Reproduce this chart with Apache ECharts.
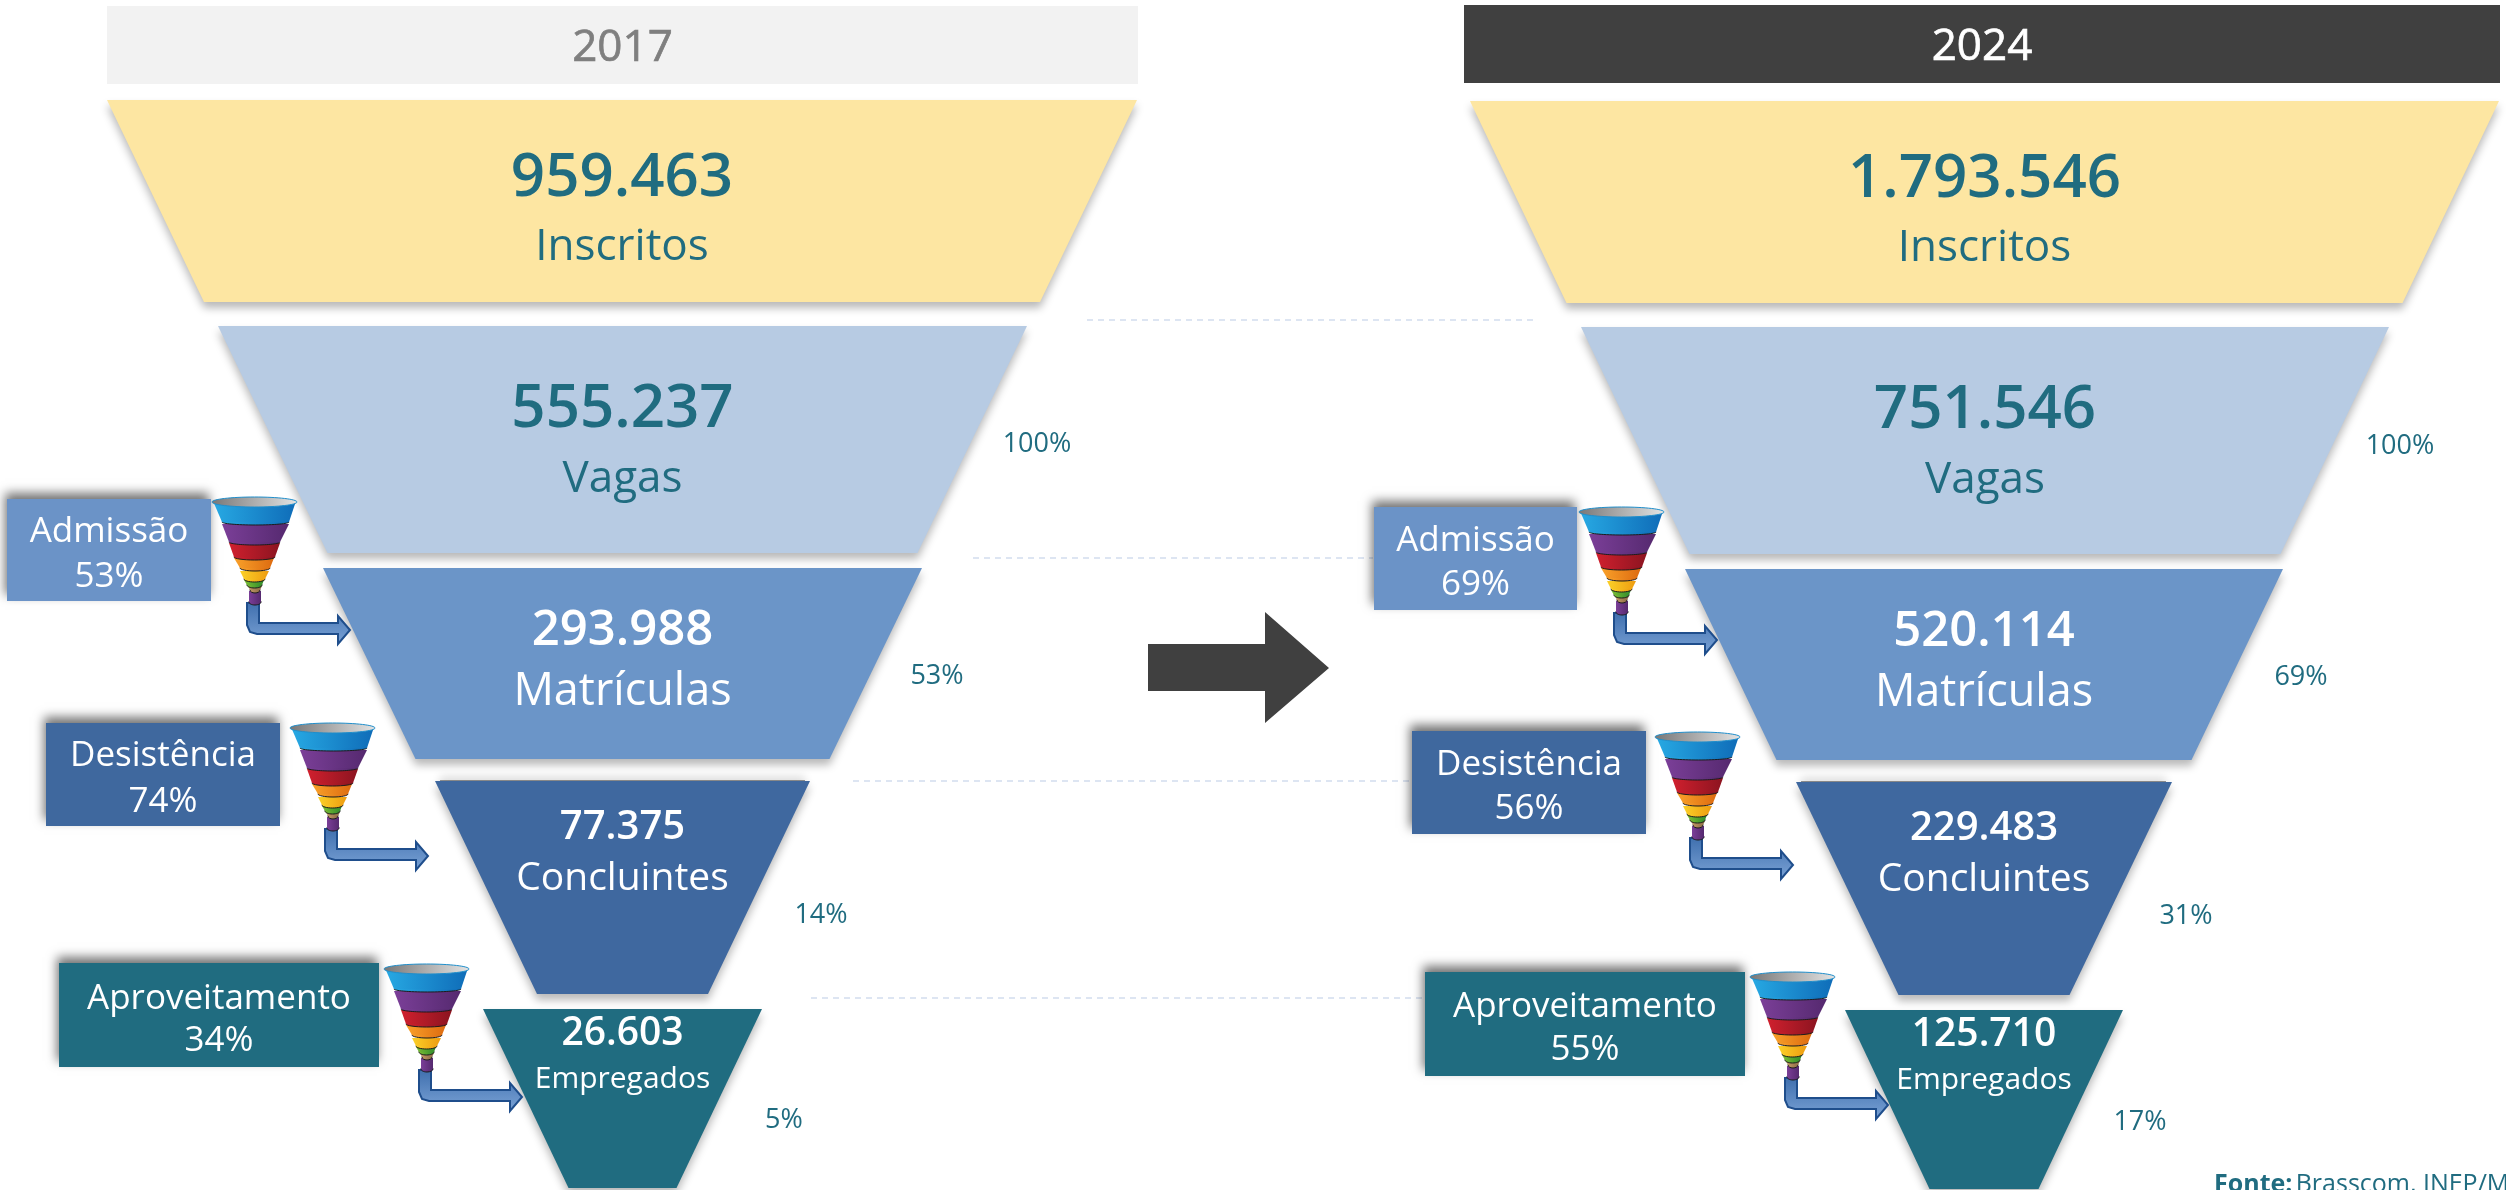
<!DOCTYPE html>
<html>
<head>
<meta charset="utf-8">
<title>Funil 2017 x 2024</title>
<style>
  html, body { margin: 0; padding: 0; background: #fff; overflow: hidden; }
  #chart { width: 2506px; height: 1190px; }
</style>
<script src="https://cdn.jsdelivr.net/npm/echarts@6/dist/echarts.min.js"></script>
</head>
<body>
<div id="chart"></div>
<script>
// dados
const years = ['2017', '2024'];
const stages = ['Inscritos', 'Vagas', 'Matrículas', 'Concluintes', 'Empregados'];
const values2017 = [959463, 555237, 293988, 77375, 26603];
const values2024 = [1793546, 751546, 520114, 229483, 125710];
const share2017 = ['100%', '53%', '14%', '5%'];
const share2024 = ['100%', '69%', '31%', '17%'];
const dropNames = ['Admissão', 'Desistência', 'Aproveitamento'];
const drop2017 = ['53%', '74%', '34%'];
const drop2024 = ['69%', '56%', '55%'];
const sourceLabel = 'Fonte:';
const sourceText = 'Brasscom, INEP/M';

// layout
const TEAL = '#206c80';
const FONT = '"Open Sans", "Noto Sans", sans-serif';
const stageColors = ['#fde6a2', '#b7cbe3', '#6b95c8', '#3f689f', '#206c80'];
const stageText = [TEAL, TEAL, '#fff', '#fff', '#fff'];
const valueFont = [60, 60, 49, 40, 39];
const nameFont = [44, 44, 45, 39, 30];
const lineGap = [68, 70, 61, 51, 46];
const labelShift = [12, 5, -2, -34, -42];
const dropColors = ['#6b93c7', '#3f689e', '#206c80'];

// [x, largura topo, y, altura, largura base]
const boxes2017 = [
  [107, 1030, 100, 202, 836],
  [218, 809, 326, 227, 590],
  [323, 599, 568, 191, 414],
  [435, 375, 781, 213, 171],
  [483, 279, 1009, 179, 108]
];
const boxes2024 = [
  [1470, 1029, 101, 202, 836],
  [1581, 808, 327, 227, 591],
  [1685, 598, 569, 191, 415],
  [1796, 376, 782, 213, 171],
  [1845, 278, 1010, 179, 109]
];
const sharePos2017 = [[1037, 444], [937, 676], [821, 915], [784, 1120]];
const sharePos2024 = [[2400, 446], [2301, 677], [2186, 916], [2140, 1122]];
// [x, y, largura, altura, y linha 1, y linha 2]
const dropBox2017 = [
  [7, 499, 204, 102, 532, 577],
  [46, 723, 234, 103, 756, 802],
  [59, 963, 320, 104, 999, 1041]
];
const dropBox2024 = [
  [1374, 507, 203, 103, 541, 585],
  [1412, 731, 234, 103, 765, 809],
  [1425, 972, 320, 104, 1007, 1050]
];
const iconPos2017 = [[212, 498], [290, 724], [384, 965]];
const iconPos2024 = [[1579, 508], [1655, 733], [1750, 973]];
const dashes = [[1087, 1536, 320], [973, 1373, 558], [853, 1412, 781], [811, 1425, 998]];
// sombra acima de Concluintes
const topShades = [[440, 781, 365], [1801, 782, 365]];

const fmt = v => String(v).replace(/\B(?=(\d{3})+(?!\d))/g, '.');

function funnelSeries(values, boxes) {
  return values.map((v, i) => {
    const b = boxes[i];
    const s = labelShift[i];
    return {
      type: 'funnel',
      left: b[0],
      top: b[2],
      width: b[1],
      height: b[3],
      min: 0,
      max: v,
      minSize: b[4],
      maxSize: b[1],
      sort: 'none',
      gap: 0,
      silent: true,
      animation: false,
      itemStyle: {
        color: stageColors[i],
        borderWidth: 0,
        shadowColor: 'rgba(0,0,0,0.28)',
        shadowBlur: 9,
        shadowOffsetY: 6
      },
      labelLine: { show: false },
      label: {
        show: true,
        position: 'inside',
        // empurra o texto para cima/baixo dentro do trapezio
        padding: s > 0 ? [2 * s, 0, 0, 0] : [0, 0, -2 * s, 0],
        fontFamily: FONT,
        formatter: p => '{v|' + fmt(p.value) + '}\n{n|' + p.name + '}',
        rich: {
          v: {
            fontFamily: FONT,
            fontSize: valueFont[i],
            fontWeight: 600,
            lineHeight: lineGap[i],
            color: stageText[i],
            align: 'center'
          },
          n: {
            fontFamily: FONT,
            fontSize: nameFont[i],
            fontWeight: 500,
            lineHeight: lineGap[i],
            color: stageText[i],
            align: 'center'
          }
        }
      },
      data: [{ name: stages[i], value: v }]
    };
  });
}

function hShade(c1, c2) {
  return { type: 'linear', x: 0, y: 0, x2: 1, y2: 0, colorStops: [{ offset: 0, color: c1 }, { offset: 1, color: c2 }] };
}

// funilzinho colorido + seta
function funnelIcon(pos) {
  const bands = [
    [37, 49, 93, 37, 49, 104, '#7b3f98', '#55296f'],
    [36, 50, 88, 38, 48, 92, '#c49a66', '#8b6a44'],
    [32, 52, 82, 35, 50, 87, '#7cbf33', '#2f8a2c'],
    [28, 57, 73, 32, 53, 81, '#fbd028', '#ee9c10'],
    [22, 62, 60, 28, 58, 70, '#f9a12a', '#dd6b10'],
    [17, 68, 45, 22, 63, 59, '#d0202e', '#8c1420'],
    [10, 77, 26, 17, 68, 44, '#7b3f98', '#55296f'],
    [1, 84, 3, 10, 77, 24, '#27a9e3', '#0f6cb8']
  ];
  const x = pos[0];
  const y = pos[1];
  const els = [];
  // seta em L
  const sx = x + 35;
  const sy = y + 105;
  els.push({
    type: 'polygon',
    z: 19,
    silent: true,
    shape: {
      points: [
        [sx, sy], [sx + 12, sy], [sx + 12, sy + 20], [sx + 91, sy + 20], [sx + 91, sy + 13],
        [sx + 103, sy + 27], [sx + 91, sy + 41], [sx + 91, sy + 31], [sx + 10, sy + 31],
        [sx + 3, sy + 29], [sx, sy + 22]
      ]
    },
    style: {
      fill: { type: 'linear', x: 0, y: 0, x2: 0, y2: 1, colorStops: [{ offset: 0, color: '#3f6fae' }, { offset: 1, color: '#7ba3d6' }] },
      stroke: '#1f4e8c',
      lineWidth: 2
    }
  });
  bands.forEach(b => {
    const fill = hShade(b[6], b[7]);
    els.push({
      type: 'ellipse',
      z: 20,
      silent: true,
      shape: { cx: x + (b[3] + b[4]) / 2, cy: y + b[5], rx: (b[4] - b[3]) / 2, ry: 3 },
      style: { fill: fill, stroke: '#1c1c1c', lineWidth: 1 }
    });
    els.push({
      type: 'polygon',
      z: 20,
      silent: true,
      shape: { points: [[x + b[0], y + b[2]], [x + b[1], y + b[2]], [x + b[4], y + b[5]], [x + b[3], y + b[5]]] },
      style: { fill: fill }
    });
  });
  els.push({
    type: 'ellipse',
    z: 21,
    silent: true,
    shape: { cx: x + 42.5, cy: y + 4, rx: 42.5, ry: 5 },
    style: { fill: hShade('#777777', '#e4e4e4'), stroke: '#1f8ecb', lineWidth: 1 }
  });
  return els;
}

function dropBox(box, color, name, pct) {
  const cx = box[0] + box[2] / 2;
  const txt = (t, y) => ({
    type: 'text',
    z: 12,
    silent: true,
    x: cx,
    y: y,
    style: { text: t, fill: '#fff', font: '500 35px ' + FONT, textAlign: 'center', textVerticalAlign: 'middle' }
  });
  return [
    {
      type: 'rect',
      z: 11,
      silent: true,
      shape: { x: box[0], y: box[1], width: box[2], height: box[3] },
      style: { fill: color, shadowColor: 'rgba(0,0,0,0.55)', shadowBlur: 10, shadowOffsetX: -2, shadowOffsetY: -6 }
    },
    txt(name, box[4]),
    txt(pct, box[5])
  ];
}

function header(x, y, w, h, bg, fg, label) {
  return [
    { type: 'rect', silent: true, shape: { x: x, y: y, width: w, height: h }, style: { fill: bg } },
    {
      type: 'text',
      silent: true,
      x: x + w / 2,
      y: y + h / 2 + 3,
      style: { text: label, fill: fg, stroke: fg, lineWidth: 0.7, font: '500 44px ' + FONT, textAlign: 'center', textVerticalAlign: 'middle' }
    }
  ];
}

const graphics = [];
dashes.forEach(d => {
  graphics.push({
    type: 'line',
    z: 1,
    silent: true,
    shape: { x1: d[0], y1: d[2], x2: d[1], y2: d[2] },
    style: { stroke: '#dde5f2', lineWidth: 2, lineDash: [6, 5] }
  });
});
topShades.forEach(t => {
  graphics.push({
    type: 'rect',
    z: 1,
    silent: true,
    shape: { x: t[0], y: t[1] - 1, width: t[2], height: 6 },
    style: { fill: 'rgba(0,0,0,0.4)', shadowColor: 'rgba(0,0,0,0.45)', shadowBlur: 8, shadowOffsetY: -3 }
  });
});
graphics.push(...header(107, 6, 1031, 78, '#f2f2f2', '#7f7f7f', years[0]));
graphics.push(...header(1464, 5, 1036, 78, '#404040', '#ffffff', years[1]));
graphics.push({
  type: 'polygon',
  silent: true,
  shape: { points: [[1148, 644], [1265, 644], [1265, 612], [1329, 668], [1265, 723], [1265, 691], [1148, 691]] },
  style: { fill: '#404040' }
});
[[share2017, sharePos2017], [share2024, sharePos2024]].forEach(pair => {
  pair[0].forEach((t, i) => {
    graphics.push({
      type: 'text',
      silent: true,
      x: pair[1][i][0],
      y: pair[1][i][1],
      style: { text: t, fill: TEAL, font: '400 27px ' + FONT, textAlign: 'center', textVerticalAlign: 'middle' }
    });
  });
});
dropNames.forEach((name, i) => {
  graphics.push(...dropBox(dropBox2017[i], dropColors[i], name, drop2017[i]));
  graphics.push(...dropBox(dropBox2024[i], dropColors[i], name, drop2024[i]));
  graphics.push(...funnelIcon(iconPos2017[i]));
  graphics.push(...funnelIcon(iconPos2024[i]));
});
graphics.push({
  type: 'text',
  silent: true,
  x: 2214,
  y: 1185,
  style: {
    text: '{b|' + sourceLabel + '} {r|' + sourceText + '}',
    textVerticalAlign: 'middle',
    rich: {
      b: { font: '700 25px ' + FONT, fill: TEAL },
      r: { font: '400 25px ' + FONT, fill: TEAL }
    }
  }
});

const chart = echarts.init(document.getElementById('chart'), null, { renderer: 'canvas' });
chart.setOption({
  animation: false,
  backgroundColor: '#fff',
  series: funnelSeries(values2017, boxes2017).concat(funnelSeries(values2024, boxes2024)),
  graphic: { elements: graphics }
});
</script>
</body>
</html>
